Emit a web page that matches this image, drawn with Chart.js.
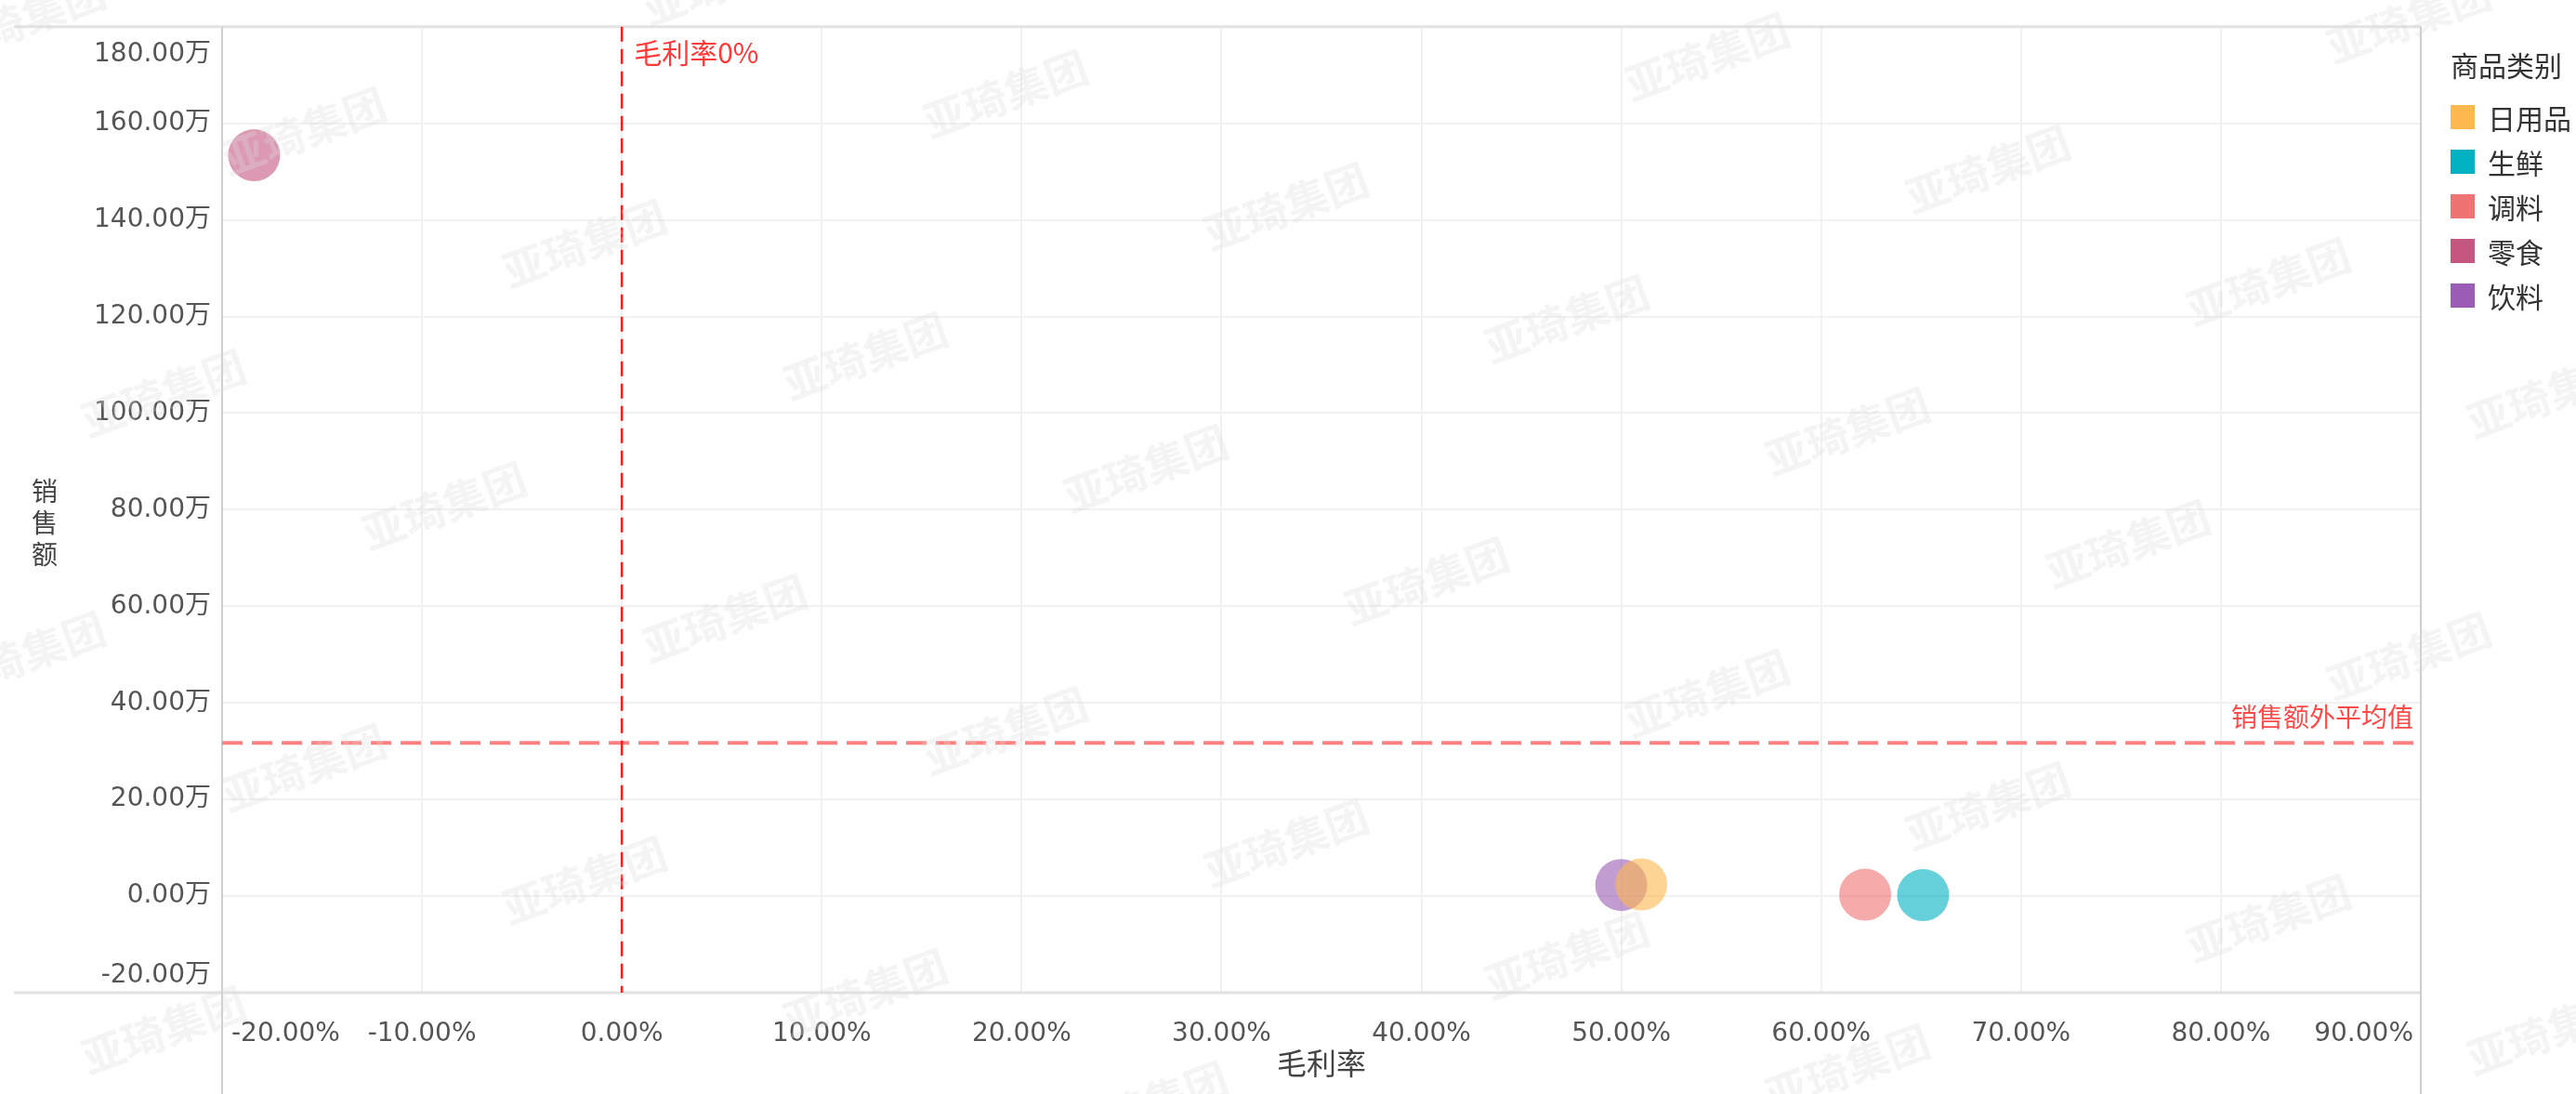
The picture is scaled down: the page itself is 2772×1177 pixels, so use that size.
<!DOCTYPE html>
<html lang="zh-CN">
<head>
<meta charset="utf-8">
<title>毛利率 vs 销售额</title>
<script src="https://cdn.jsdelivr.net/npm/chart.js@4.4.1/dist/chart.umd.min.js"></script>
<style>
  html, body { margin: 0; padding: 0; background: #fff; }
  .wrap {
    position: relative;
    width: 2772px;
    height: 1177px;
    overflow: hidden;
    font-family: "Noto Sans CJK SC", "Noto Sans", sans-serif;
  }
  #chart { position: absolute; left: 0; top: 0; }
  .legend { position: absolute; left: 2637px; top: 50px; color: #333; }
  .legend-title { font-size: 30px; line-height: 38px; height: 38px; margin-bottom: 14px; }
  .legend-item { display: flex; align-items: center; height: 48px; font-size: 30px; }
  .legend-swatch { width: 26px; height: 26px; margin-right: 14px; }
</style>
</head>
<body>
<div class="wrap">
  <canvas id="chart" width="2772" height="1177"></canvas>
  <div class="legend" id="legend"></div>
</div>
<script>
// data
const categories = ['日用品', '生鲜', '调料', '零食', '饮料'];
const categoryColors = ['#fdb84e', '#00b1c2', '#f07373', '#c4567f', '#9a5cb4'];
const marginRates = [51.0, 65.1, 62.2, -18.4, 50.0];   // 毛利率, %
const salesWan = [2.4, 0.2, 0.3, 153.4, 2.3];          // 销售额, 万
const xTickValues = [-20, -10, 0, 10, 20, 30, 40, 50, 60, 70, 80, 90];
const yTickValues = [-20, 0, 20, 40, 60, 80, 100, 120, 140, 160, 180];

const legendTitle = '商品类别';
const xTitle = '毛利率';
const yTitle = '销售额';
const zeroMarginLabel = '毛利率0%';
const avgSalesLabel = '销售额外平均值';
const watermarkText = '亚琦集团';

const zeroMargin = 0;
const avgSales = salesWan.reduce((a, b) => a + b, 0) / salesWan.length;

const tickFont = '"DejaVu Sans", "Noto Sans CJK SC", sans-serif';
const cjkFont = '"Noto Sans CJK SC", "Noto Sans", sans-serif';

function withAlpha(hex, a) {
    const n = parseInt(hex.slice(1), 16);
    return `rgba(${(n >> 16) & 255}, ${(n >> 8) & 255}, ${n & 255}, ${a})`;
}

// legend (html)
const legendEl = document.getElementById('legend');
legendEl.innerHTML = `<div class="legend-title">${legendTitle}</div>` +
    categories.map((c, i) =>
        `<div class="legend-item"><span class="legend-swatch" style="background:${categoryColors[i]}"></span>${c}</div>`
    ).join('');

// background, frame lines, reference lines, end-aligned tick labels
const framePlugin = {
    id: 'frame',
    beforeDraw(chart) {
        const { ctx, width, height } = chart;
        ctx.save();
        ctx.fillStyle = '#fff';
        ctx.fillRect(0, 0, width, height);
        ctx.restore();

        // keep first / last tick labels inside the plot, like the original
        const y = chart.scales.y;
        const yItems = y.getLabelItems();
        if (!yItems._inner && yItems.length) {
            yItems._inner = true;
            const first = yItems[0], last = yItems[yItems.length - 1];
            first.options.textBaseline = 'bottom';
            first.options.translation = [first.options.translation[0], first.options.translation[1] - 4];
            last.options.textBaseline = 'top';
            last.options.translation = [last.options.translation[0], last.options.translation[1] + 16];
        }
        const x = chart.scales.x;
        const xItems = x.getLabelItems();
        if (!xItems._inner && xItems.length) {
            xItems._inner = true;
            const first = xItems[0], last = xItems[xItems.length - 1];
            first.options.translation = [first.options.translation[0] + 10, first.options.translation[1]];
            last.options.translation = [last.options.translation[0] - 8, last.options.translation[1]];
        }
    },
    beforeDatasetsDraw(chart) {
        const { ctx, chartArea: a, height } = chart;
        const xs = chart.scales.x, ys = chart.scales.y;
        ctx.save();

        // frame
        ctx.strokeStyle = '#e2e2e2';
        ctx.lineWidth = 3;
        ctx.beginPath();
        ctx.moveTo(15, a.top); ctx.lineTo(a.right, a.top);
        ctx.moveTo(15, a.bottom); ctx.lineTo(a.right, a.bottom);
        ctx.stroke();
        ctx.strokeStyle = '#cfcfcf';
        ctx.lineWidth = 2;
        ctx.beginPath();
        ctx.moveTo(a.left, a.top); ctx.lineTo(a.left, height);
        ctx.moveTo(a.right, a.top); ctx.lineTo(a.right, height);
        ctx.stroke();

        // average sales line
        const yAvg = ys.getPixelForValue(avgSales);
        ctx.strokeStyle = '#ff8080';
        ctx.lineWidth = 4;
        ctx.setLineDash([22, 10]);
        ctx.beginPath();
        ctx.moveTo(a.left, yAvg); ctx.lineTo(a.right - 8, yAvg);
        ctx.stroke();

        // zero margin line
        const x0 = xs.getPixelForValue(zeroMargin);
        ctx.strokeStyle = '#ff1a1a';
        ctx.lineWidth = 2.5;
        ctx.setLineDash([16, 8]);
        ctx.beginPath();
        ctx.moveTo(x0, a.top); ctx.lineTo(x0, a.bottom);
        ctx.stroke();
        ctx.setLineDash([]);

        ctx.font = `30px ${cjkFont}`;
        ctx.fillStyle = '#ff3838';
        ctx.textBaseline = 'middle';
        ctx.textAlign = 'left';
        ctx.fillText(zeroMarginLabel, x0 + 13, a.top + 28);
        ctx.font = `28px ${cjkFont}`;
        ctx.fillStyle = '#ff4a4a';
        ctx.textAlign = 'right';
        ctx.fillText(avgSalesLabel, a.right - 8, yAvg - 28);
        ctx.restore();
    },
    afterDraw(chart) {
        const { ctx, chartArea: a } = chart;
        // stacked, upright y title
        ctx.save();
        ctx.font = `28px ${cjkFont}`;
        ctx.fillStyle = '#444';
        ctx.textAlign = 'center';
        ctx.textBaseline = 'middle';
        const chars = [...yTitle];
        const mid = (a.top + a.bottom) / 2 + 14;
        chars.forEach((ch, i) => {
            ctx.fillText(ch, 48, mid + (i - (chars.length - 1) / 2) * 34);
        });
        ctx.restore();
    }
};

// faint tiled watermark over everything
const watermarkPlugin = {
    id: 'watermark',
    afterDraw(chart) {
        const { ctx, width, height } = chart;
        ctx.save();
        ctx.font = `bold 46px ${cjkFont}`;
        ctx.fillStyle = 'rgba(220, 220, 220, 0.3)';
        ctx.textAlign = 'center';
        ctx.textBaseline = 'middle';
        for (let k = -8; k <= 8; k++) {
            for (let n = -12; n <= 14; n++) {
                const cx = 327 + n * 302 + k * 151;
                const cy = 141 + n * 121 + k * 403;
                if (cx < -200 || cx > width + 200 || cy < -80 || cy > height + 80) continue;
                ctx.save();
                ctx.translate(cx, cy);
                ctx.rotate(-20 * Math.PI / 180);
                ctx.fillText(watermarkText, 0, 0);
                ctx.restore();
            }
        }
        ctx.restore();
    }
};

Chart.defaults.font.family = tickFont;

new Chart(document.getElementById('chart'), {
    type: 'scatter',
    data: {
        datasets: categories.map((c, i) => ({
            label: c,
            data: [{ x: marginRates[i], y: salesWan[i] }],
            backgroundColor: withAlpha(categoryColors[i], 0.6),
            borderColor: withAlpha(categoryColors[i], 0.6),
            borderWidth: 0,
            pointRadius: 28,
            pointHoverRadius: 28
        }))
    },
    options: {
        responsive: false,
        animation: false,
        layout: { padding: { top: 28, right: 167, left: 0, bottom: 0 } },
        plugins: {
            legend: { display: false },
            tooltip: { enabled: false }
        },
        scales: {
            x: {
                type: 'linear',
                min: xTickValues[0],
                max: xTickValues[xTickValues.length - 1],
                afterBuildTicks: s => { s.ticks = xTickValues.map(v => ({ value: v })); },
                afterFit: s => { s.height = 109; },
                border: { display: false },
                grid: { color: '#f1f1f1', lineWidth: 2, drawTicks: false },
                ticks: {
                    align: 'inner',
                    padding: 28,
                    color: '#555',
                    font: { size: 28 },
                    maxRotation: 0,
                    autoSkip: false,
                    callback: v => v.toFixed(2) + '%'
                },
                title: {
                    display: true,
                    text: xTitle,
                    color: '#444',
                    font: { size: 32, family: cjkFont },
                    padding: { top: 0, bottom: 14 }
                }
            },
            y: {
                type: 'linear',
                min: yTickValues[0],
                max: yTickValues[yTickValues.length - 1],
                afterBuildTicks: s => { s.ticks = yTickValues.map(v => ({ value: v })); },
                afterFit: s => { s.width = 239; },
                border: { display: false },
                grid: { color: '#f1f1f1', lineWidth: 2, drawTicks: false },
                ticks: {
                    padding: 12,
                    color: '#555',
                    font: { size: 28 },
                    autoSkip: false,
                    callback: v => v.toFixed(2) + '万'
                }
            }
        }
    },
    plugins: [framePlugin, watermarkPlugin]
});
</script>
</body>
</html>
